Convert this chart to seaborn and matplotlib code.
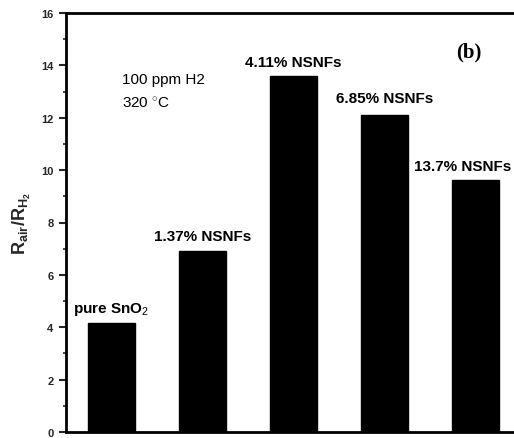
import matplotlib
matplotlib.use("Agg")
import matplotlib.pyplot as plt
import matplotlib.transforms as mtransforms
import seaborn as sns
import pandas as pd
from matplotlib.ticker import MultipleLocator

categories = ["pure SnO$_2$", "1.37% NSNFs", "4.11% NSNFs", "6.85% NSNFs", "13.7% NSNFs"]
values = [4.15, 6.9, 13.6, 12.1, 9.62]
yticks = [0, 2, 4, 6, 8, 10, 12, 14, 16]

sns.set_theme(style="white")
plt.rcParams['font.family'] = ['Liberation Sans', 'DejaVu Sans']
plt.rcParams['mathtext.fontset'] = 'custom'
plt.rcParams['mathtext.rm'] = 'Liberation Sans'
plt.rcParams['mathtext.it'] = 'Liberation Sans:italic'
plt.rcParams['mathtext.bf'] = 'Liberation Sans:bold'

df = pd.DataFrame({"cat": categories, "val": values})

fig = plt.figure(figsize=(5.14, 4.39), dpi=100)
ax = fig.add_axes([66/514, 6/439, 455/514, 419/439])
sns.barplot(data=df, x="cat", y="val", color="black", width=0.52, ax=ax,
            saturation=1, edgecolor="black")

ax.set_xlim(-0.5, 4.5)
ax.set_ylim(0, 16)
ax.set_yticks(yticks)
ax.yaxis.set_minor_locator(MultipleLocator(1))
ax.set_xticks([])
ax.set_xlabel("")
ax.set_ylabel(r"$\mathbf{R_{air}/R_{H_2}}$", fontsize=13, labelpad=6)
ax.tick_params(axis="y", which="major", direction="out", length=5, width=1.5,
               labelsize=8, left=True, pad=4)
ax.tick_params(axis="y", which="minor", direction="out", length=2.5, width=1.2, left=True)
for lab in ax.get_yticklabels():
    lab.set_fontweight("bold")
for s in ["left", "bottom", "top"]:
    ax.spines[s].set_visible(True)
    ax.spines[s].set_color("black")
    ax.spines[s].set_linewidth(2)
ax.spines["right"].set_visible(False)

edge_tr = mtransforms.blended_transform_factory(fig.transFigure, ax.transData)
offs = [0.45, 0.45, 0.36, 0.5, 0.4]
for i, (c, v) in enumerate(zip(categories, values)):
    if i == len(categories) - 1:
        ax.text(0.995, v + offs[i], c, ha="right", va="baseline", fontsize=11,
                fontweight="bold", color="black", transform=edge_tr)
    else:
        ax.text(i, v + offs[i], c, ha="center", va="baseline", fontsize=11,
                fontweight="bold", color="black")

ax.text(122/514, 1 - 84/439, "100 ppm H2", transform=fig.transFigure, fontsize=11,
        color="black", va="baseline")
ax.text(122/514, 1 - 108/439, "320 $^{\\circ}$C", transform=fig.transFigure, fontsize=11,
        color="black", va="baseline")
ax.text(456/514, 1 - 57/439, "(b)", transform=fig.transFigure, fontsize=15, fontweight="bold",
        family="Liberation Serif", color="black", va="baseline")

fig.savefig("out.png", dpi=100)
